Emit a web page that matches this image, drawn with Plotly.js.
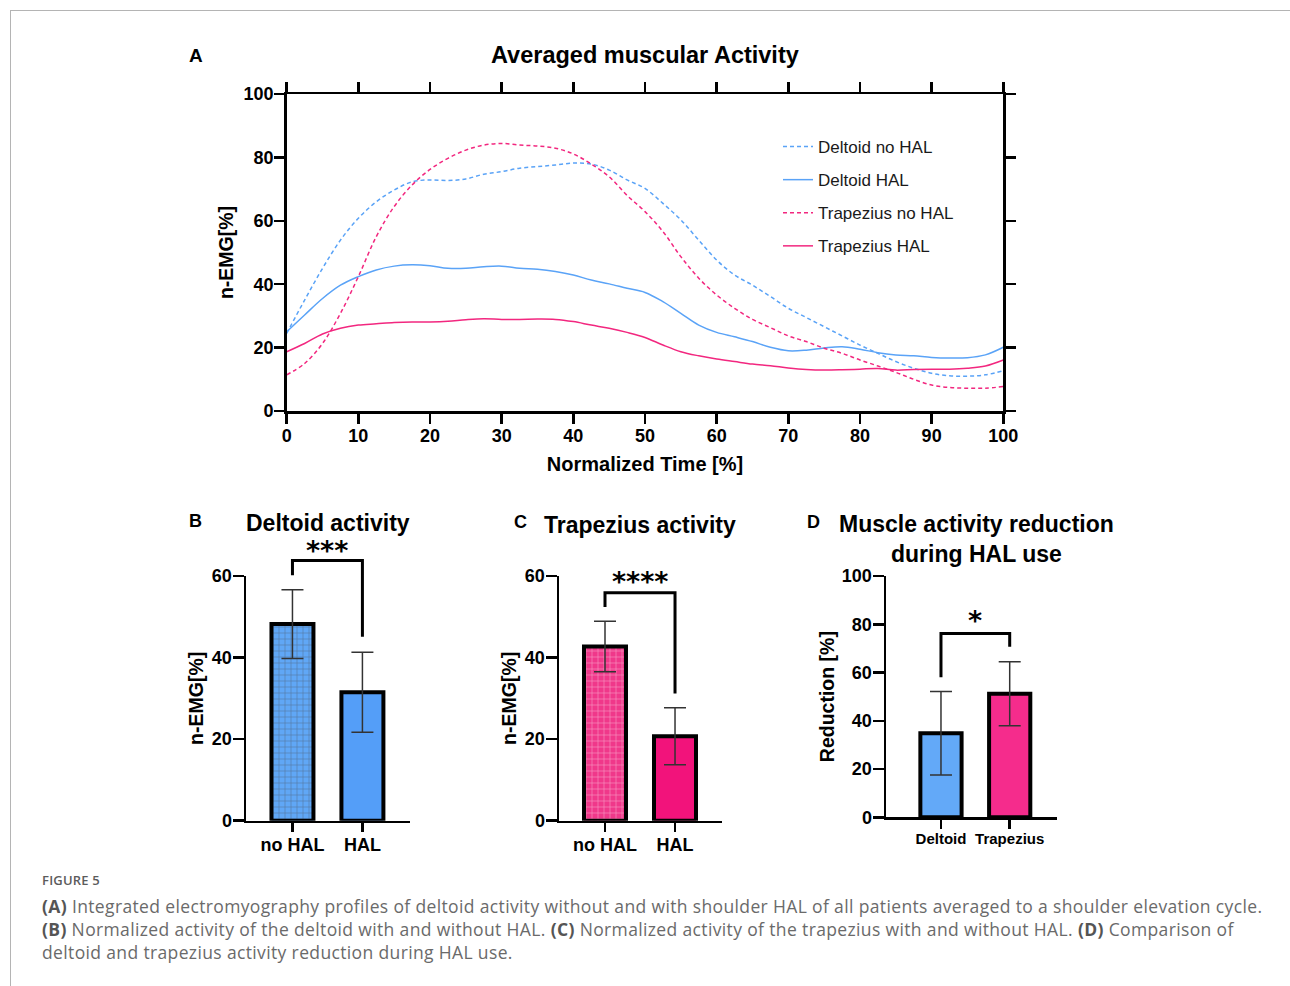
<!DOCTYPE html>
<html><head><meta charset="utf-8">
<script src="https://cdn.plot.ly/plotly-3.0.1.min.js"></script>
<style>
html,body{margin:0;padding:0;background:#fff;}
#wrap{position:relative;width:1290px;height:986px;overflow:hidden;background:#fff;}
#frame{position:absolute;left:10px;top:10px;width:1300px;height:1000px;border-top:1px solid #b4b4b4;border-left:1px solid #b4b4b4;}
#chart{position:absolute;left:0;top:0;width:1290px;height:986px;}
#cap{position:absolute;left:42px;top:871px;white-space:nowrap;font-family:"Open Sans","Noto Sans",sans-serif;color:#6a6a6a;}
#cap .fig{font-size:13px;font-weight:600;color:#5c5c5c;line-height:18px;letter-spacing:0.2px;}
#cap .txt{margin-top:6px;font-size:17.5px;line-height:23px;letter-spacing:0.36px;}
#cap .txt b{color:#555;font-weight:700;}
</style>
</head><body>
<div id="wrap">
<div id="frame"></div>
<div id="chart"></div>
<div id="cap">
<div class="fig">FIGURE 5</div>
<div class="txt"><b>(A)</b> Integrated electromyography profiles of deltoid activity without and with shoulder HAL of all patients averaged to a shoulder elevation cycle.<br><b>(B)</b> Normalized activity of the deltoid with and without HAL. <b>(C)</b> Normalized activity of the trapezius with and without HAL. <b>(D)</b> Comparison of<br>deltoid and trapezius activity reduction during HAL use.</div>
</div>
</div>
<script>
// ---------- DATA ----------
const timePct = [0,2.5,5,7.5,10,12.5,15,17.5,20,22.5,25,27.5,30,32.5,35,37.5,40,42.5,45,47.5,50,52.5,55,57.5,60,62.5,65,67.5,70,72.5,75,77.5,80,82.5,85,87.5,90,92.5,95,97.5,100];
const deltoidNoHAL = [24.5,35.0,45.0,53.9,60.8,66.0,69.7,72.3,72.9,72.7,73.2,74.7,75.5,76.6,77.1,77.6,78.2,77.9,76.0,72.9,70.2,65.5,60.3,53.9,47.6,42.9,39.7,36.1,32.4,29.5,26.6,23.7,20.8,18.2,15.6,13.5,11.9,11.1,11.0,11.4,12.7];
const deltoidHAL = [25.0,30.3,35.5,39.7,42.4,44.5,45.7,46.1,45.8,45.0,45.0,45.5,45.7,45.0,44.7,44.0,42.9,41.3,40.1,38.7,37.4,34.5,30.8,27.1,24.8,23.4,21.9,20.1,19.0,19.2,19.9,20.3,19.5,18.4,17.7,17.4,16.9,16.7,16.8,17.7,20.1];
const trapeziusNoHAL = [11.4,15.0,21.3,30.8,42.4,55.0,64.5,71.3,76.2,79.7,82.3,83.9,84.4,83.9,83.6,82.9,81.1,77.9,73.9,68.0,62.9,56.6,48.7,41.9,36.6,32.4,28.9,26.3,23.7,21.9,19.8,18.2,16.1,14.2,12.2,10.0,8.2,7.4,7.2,7.2,7.7];
const trapeziusHAL = [18.7,21.3,24.3,26.1,27.1,27.5,27.9,28.1,28.1,28.3,28.8,29.1,28.9,28.9,29.0,28.9,28.2,27.1,26.1,24.8,23.2,20.8,18.7,17.4,16.4,15.6,14.8,14.3,13.6,13.1,12.9,13.0,13.2,13.4,12.9,13.1,13.2,13.2,13.5,14.2,16.1];
const lineNames = ['Deltoid no HAL','Deltoid HAL','Trapezius no HAL','Trapezius HAL'];

const conditionCats = ['no HAL','HAL'];
const deltoidMean = [48.2,31.5];
const deltoidSD = [8.4,9.8];
const trapeziusMean = [42.7,20.7];
const trapeziusSD = [6.2,7.0];

const muscleCats = ['Deltoid','Trapezius'];
const reductionMean = [34.8,51.2];
const reductionSD = [17.3,13.3];

const sigLabels = ['***','****','*'];
// bracket heights in data units: [top, left leg end, right leg end]
const sigDeltoid = [63.8,60.2,45.1];
const sigTrapezius = [55.9,52.4,31.2];
const sigReduction = [76.2,58.0,70.7];

// ---------- STYLE / LAYOUT ----------
const F = '"Liberation Sans", Arial, sans-serif';
const W = 1290, H = 986;
const px = v => v / W;
const py = v => 1 - v / H;
const BLUE = '#5AA3F7', PINK = '#F2277F';

const traces = [];
const lineStyles = [
  {color: BLUE, dash: '4px,3px'},
  {color: BLUE, dash: 'solid'},
  {color: PINK, dash: '4px,3px'},
  {color: PINK, dash: 'solid'}
];
[deltoidNoHAL, deltoidHAL, trapeziusNoHAL, trapeziusHAL].forEach((ys, i) => {
  traces.push({
    type: 'scatter', mode: 'lines', x: timePct, y: ys, name: lineNames[i],
    legendgroup: 'g' + i, xaxis: 'x', yaxis: 'y',
    line: {color: lineStyles[i].color, dash: lineStyles[i].dash, width: 1.5, shape: 'spline', smoothing: 1},
    hoverinfo: 'x+y+name'
  });
});

const idx = [0, 1];
function barTrace(means, sds, ax, colors, shapes) {
  return {
    type: 'bar', x: idx, y: means, xaxis: 'x' + ax, yaxis: 'y' + ax, width: 0.6, showlegend: false,
    marker: {
      color: colors, line: {color: '#000', width: 4},
      pattern: {shape: shapes, fgcolor: 'rgba(255,255,255,0.95)', size: 6, solidity: 0.18, fillmode: 'overlay'}
    },
    error_y: {type: 'data', array: sds, visible: true, color: '#333', thickness: 1.5, width: 11}
  };
}
traces.push(barTrace(deltoidMean, deltoidSD, 2, ['#60A7F6', '#549EF8'], ['+', '']));
traces.push(barTrace(trapeziusMean, trapeziusSD, 3, ['#F0388A', '#F2137B'], ['+', '']));
traces.push(barTrace(reductionMean, reductionSD, 4, ['#63A9F8', '#F52C8C'], ['', '']));

const axLine = {showline: true, linecolor: '#000', linewidth: 2.5, ticks: 'outside', tickcolor: '#000',
  tickwidth: 2.5, showgrid: false, zeroline: false, fixedrange: true};
const boldTick = s => ({family: F, size: s, color: '#000', weight: 'bold'});
const titleFont = s => ({family: F, size: s, color: '#000', weight: 'bold'});

const layout = {
  width: W, height: H, margin: {l: 0, r: 0, t: 0, b: 0},
  paper_bgcolor: 'rgba(0,0,0,0)', plot_bgcolor: 'rgba(0,0,0,0)',
  font: {family: F, color: '#000'},
  showlegend: true,
  legend: {x: px(778), y: py(129), xanchor: 'left', yanchor: 'top', bgcolor: 'rgba(0,0,0,0)',
    font: {family: F, size: 17, color: '#1a1a1a'}, tracegroupgap: 8, itemwidth: 30},
  xaxis: Object.assign({}, axLine, {domain: [px(286.7), px(1003.3)], range: [0, 100], dtick: 10, ticklen: 10,
    mirror: 'ticks', anchor: 'y', tickfont: boldTick(18), ticklabelstandoff: -3,
    title: {text: 'Normalized Time [%]', font: titleFont(20), standoff: 12}}),
  yaxis: Object.assign({}, axLine, {domain: [py(411), py(94)], range: [0, 100], dtick: 20, ticklen: 10,
    mirror: 'ticks', anchor: 'x', tickfont: boldTick(18), ticklabelstandoff: -3,
    title: {text: 'n-EMG[%]', font: titleFont(19.5), standoff: 5}}),
  xaxis2: Object.assign({}, axLine, {domain: [px(246), px(410)], range: [-0.664, 1.68], tickvals: idx,
    ticktext: conditionCats, ticklen: 9, anchor: 'y2', tickfont: boldTick(18), ticklabelstandoff: -3}),
  yaxis2: Object.assign({}, axLine, {domain: [py(820.7), py(576)], range: [0, 60], dtick: 20, ticklen: 11,
    anchor: 'x2', tickfont: boldTick(18), ticklabelstandoff: -3,
    title: {text: 'n-EMG[%]', font: titleFont(19.5), standoff: 3}}),
  xaxis3: Object.assign({}, axLine, {domain: [px(559), px(722)], range: [-0.657, 1.671], tickvals: idx,
    ticktext: conditionCats, ticklen: 9, anchor: 'y3', tickfont: boldTick(18), ticklabelstandoff: -3}),
  yaxis3: Object.assign({}, axLine, {domain: [py(820.7), py(576)], range: [0, 60], dtick: 20, ticklen: 11,
    anchor: 'x3', tickfont: boldTick(18), ticklabelstandoff: -3,
    title: {text: 'n-EMG[%]', font: titleFont(19.5), standoff: 3}}),
  xaxis4: Object.assign({}, axLine, {domain: [px(886), px(1056.7)], range: [-0.80, 1.684], tickvals: idx,
    ticktext: muscleCats, ticklen: 9, anchor: 'y4', tickfont: boldTick(15), ticklabelstandoff: -3}),
  yaxis4: Object.assign({}, axLine, {domain: [py(817.3), py(576)], range: [0, 100], dtick: 20, ticklen: 11,
    anchor: 'x4', tickfont: boldTick(18), ticklabelstandoff: -3,
    title: {text: 'Reduction [%]', font: titleFont(19.5), standoff: 2}}),
  shapes: [], annotations: []
};

// significance brackets (y given in axis-domain fraction computed from data values)
const STAR_FONT = '"DejaVu Sans", sans-serif';
function bracket(ax, vals, rangeMax, label, fontSize, yshift) {
  const f = v => v / rangeMax;
  layout.shapes.push({type: 'path', xref: 'x' + ax, yref: 'y' + ax + ' domain',
    path: `M 0 ${f(vals[1])} L 0 ${f(vals[0])} L 1 ${f(vals[0])} L 1 ${f(vals[2])}`,
    line: {color: '#000', width: 3}});
  layout.annotations.push({xref: 'x' + ax, yref: 'y' + ax + ' domain', x: 0.5, y: f(vals[0]),
    yanchor: 'bottom', xanchor: 'center', yshift: yshift, showarrow: false, text: label, borderpad: 0,
    font: {family: STAR_FONT, size: fontSize, color: '#000', weight: 'bold'}});
}
bracket(2, sigDeltoid, 60, sigLabels[0], 27, -6);
bracket(3, sigTrapezius, 60, sigLabels[1], 27, -5);
bracket(4, sigReduction, 100, sigLabels[2], 27, -4);

function paperText(text, x, y, size, anchor) {
  layout.annotations.push({xref: 'paper', yref: 'paper', x: px(x), y: py(y), xanchor: anchor || 'center',
    yanchor: 'middle', showarrow: false, text: text, font: {family: F, size: size, color: '#000', weight: 'bold'}});
}
paperText('Averaged muscular Activity', 645, 55, 23.5);
paperText('A', 196, 55, 19);
paperText('Deltoid activity', 328, 523, 23);
paperText('B', 195, 521, 18);
paperText('Trapezius activity', 640, 525, 23);
paperText('C', 520, 522, 18);
paperText('Muscle activity reduction<br>during HAL use', 976, 539, 23);
paperText('D', 813, 522, 18);

Plotly.newPlot('chart', traces, layout, {displayModeBar: false, staticPlot: true});
</script>
</body></html>
